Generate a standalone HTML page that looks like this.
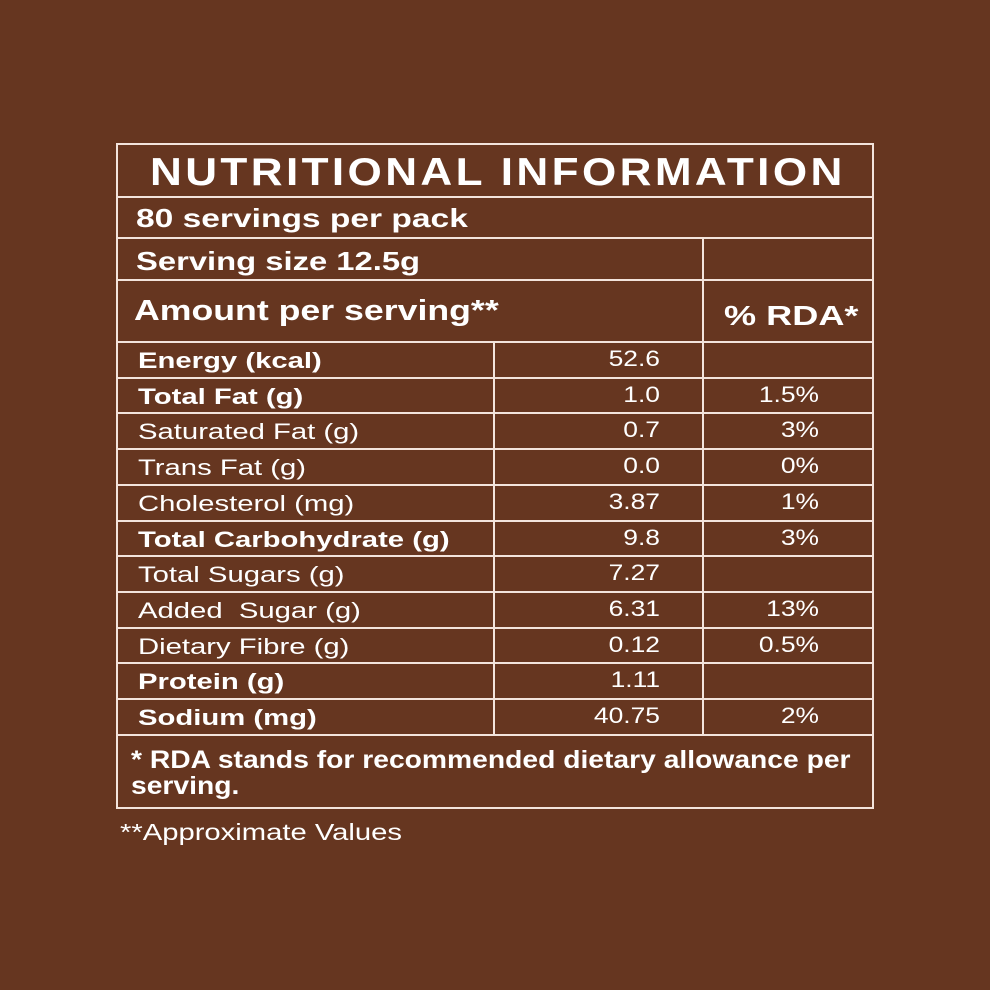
<!DOCTYPE html>
<html><head><style>
body{margin:0;width:990px;height:990px;background:#663620;font-family:"Liberation Sans",sans-serif;color:#fff;position:relative;overflow:hidden}
.h{position:absolute;height:2px;background:#f3e4dc}
.v{position:absolute;width:2px;background:#f3e4dc}
.t{position:absolute;white-space:nowrap;line-height:1;transform-origin:left center}
.b{font-weight:bold}
.r{text-align:right;transform-origin:right center}
</style></head><body>
<div class="h" style="left:116px;top:143px;width:758px"></div>
<div class="h" style="left:116px;top:196px;width:758px"></div>
<div class="h" style="left:116px;top:237px;width:758px"></div>
<div class="h" style="left:116px;top:279px;width:758px"></div>
<div class="h" style="left:116px;top:341px;width:758px"></div>
<div class="h" style="left:116px;top:807px;width:758px"></div>
<div class="v" style="left:116px;top:143px;height:666px"></div>
<div class="v" style="left:872px;top:143px;height:666px"></div>
<div class="v" style="left:702px;top:237px;height:498px"></div>
<div class="v" style="left:493px;top:341px;height:394px"></div>
<div class="t b" style="left:150px;top:153px;font-size:39px;letter-spacing:3px;transform:scaleX(1.13)">NUTRITIONAL INFORMATION</div>
<div class="t b" style="left:136px;top:205px;font-size:26px;transform:scaleX(1.29)">80 servings per pack</div>
<div class="t b" style="left:136px;top:248px;font-size:26px;transform:scaleX(1.26)">Serving size 12.5g</div>
<div class="t b" style="left:134px;top:297px;font-size:29px;transform:scaleX(1.23)">Amount per serving**</div>
<div class="t b" style="left:724px;top:302px;font-size:28px;transform:scaleX(1.29)">% RDA*</div>
<div id="rows"></div>
<div class="t b" style="left:131px;top:747px;font-size:25px;line-height:26px;transform:scaleX(1.13)">* RDA stands for recommended dietary allowance per<br>serving.</div>
<div class="t" style="left:120px;top:821px;font-size:23px;transform:scaleX(1.27)">**Approximate Values</div>
<script>
var d=[["Energy (kcal)",1,"52.6",""],["Total Fat (g)",1,"1.0","1.5%"],["Saturated Fat (g)",0,"0.7","3%"],["Trans Fat (g)",0,"0.0","0%"],["Cholesterol (mg)",0,"3.87","1%"],["Total Carbohydrate (g)",1,"9.8","3%"],["Total Sugars (g)",0,"7.27",""],["Added  Sugar (g)",0,"6.31","13%"],["Dietary Fibre (g)",0,"0.12","0.5%"],["Protein (g)",1,"1.11",""],["Sodium (mg)",1,"40.75","2%"]];
var h="";
for(var i=0;i<d.length;i++){var y=341+i*35.7;
if(i>0)h+='<div class="h" style="left:116px;top:'+y+'px;width:758px"></div>';
h+='<div class="t'+(d[i][1]?' b':'')+'" style="left:138px;top:'+(y+9)+'px;font-size:22px;white-space:pre;transform:scaleX(1.33)">'+d[i][0]+'</div>';
h+='<div class="t r" style="left:540px;width:120px;top:'+(y+7)+'px;font-size:22px;transform:scaleX(1.2)">'+d[i][2]+'</div>';
h+='<div class="t r" style="left:700px;width:119px;top:'+(y+7)+'px;font-size:22px;transform:scaleX(1.2)">'+d[i][3]+'</div>';}
h+='<div class="h" style="left:116px;top:734px;width:758px"></div>';
document.getElementById("rows").innerHTML=h;
</script>
</body></html>
